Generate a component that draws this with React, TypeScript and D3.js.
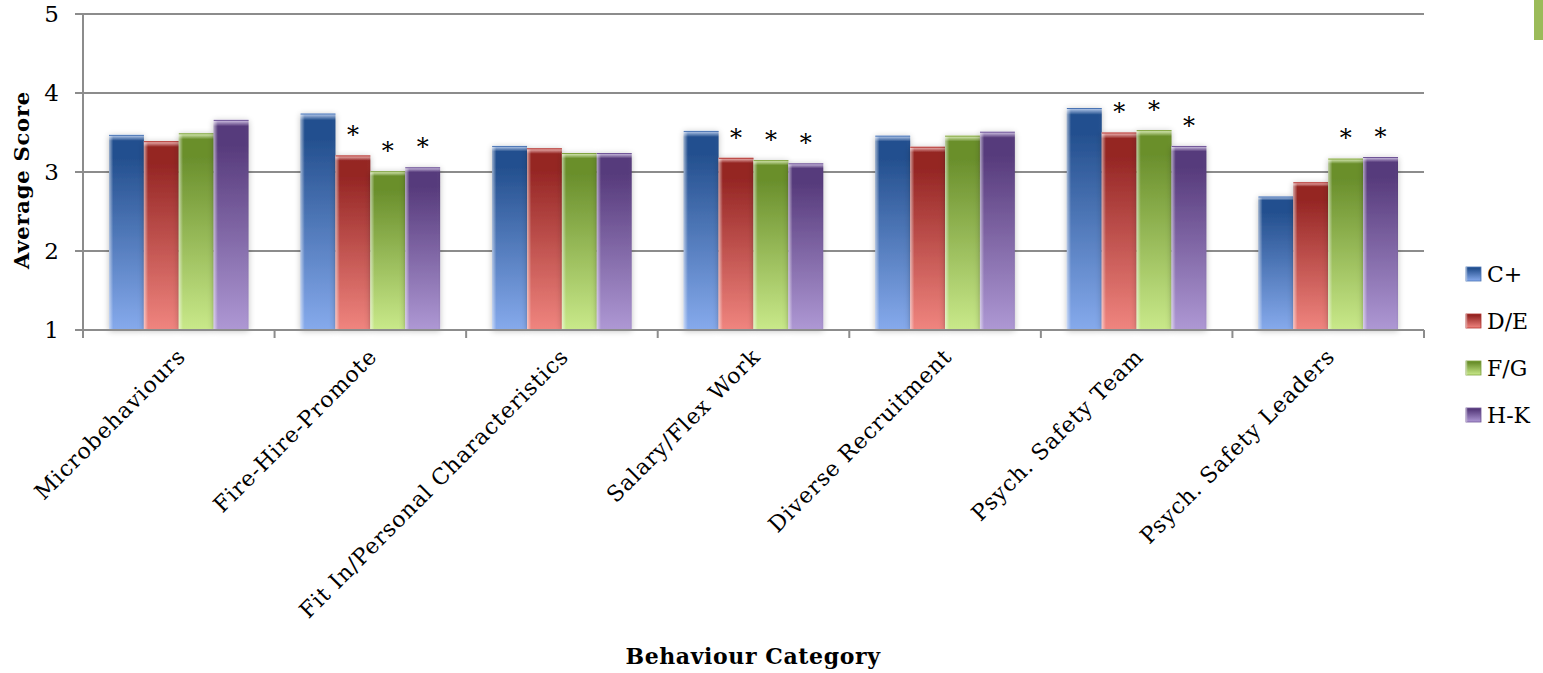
import React from "react";
import * as d3 from "d3";

const categories = [
  "Microbehaviours",
  "Fire-Hire-Promote",
  "Fit In/Personal Characteristics",
  "Salary/Flex Work",
  "Diverse Recruitment",
  "Psych. Safety Team",
  "Psych. Safety Leaders",
];
const seriesNames = ["C+", "D/E", "F/G", "H-K"];
const cPlus = [3.47, 3.74, 3.33, 3.52, 3.46, 3.81, 2.69];
const dE = [3.39, 3.21, 3.3, 3.18, 3.32, 3.5, 2.87];
const fG = [3.49, 3.01, 3.24, 3.15, 3.46, 3.53, 3.17];
const hK = [3.66, 3.06, 3.24, 3.11, 3.51, 3.33, 3.19];
// significance markers (1 = asterisk)
const sigDE = [0, 1, 0, 1, 0, 1, 0];
const sigFG = [0, 1, 0, 1, 0, 1, 1];
const sigHK = [0, 1, 0, 1, 0, 1, 1];
const yTicks = [1, 2, 3, 4, 5];

const seriesValues = [cPlus, dE, fG, hK];
const seriesSig = [[0, 0, 0, 0, 0, 0, 0], sigDE, sigFG, sigHK];
const palette = [
  { top: "#24508f", bottom: "#86aaec", edge: "#c4d6f4", line: "#4a74b4" },
  { top: "#952624", bottom: "#f0857f", edge: "#f8c8c6", line: "#b0302c" },
  { top: "#6a8f2c", bottom: "#c9e98a", edge: "#e6f6c8", line: "#7ea23c" },
  { top: "#573b7c", bottom: "#ae98d4", edge: "#dcd0ee", line: "#6e5396" },
];

const FONT = "'DejaVu Serif', 'Liberation Serif', serif";

export default function App() {
  const W = 1543,
    H = 673;
  const left = 83,
    right = 1424,
    top = 14,
    bottom = 330;
  const x = d3.scaleBand<string>().domain(categories).range([left, right]);
  const inner = d3
    .scaleBand<string>()
    .domain(seriesNames)
    .range([26, x.bandwidth() - 26]);
  const y = d3.scaleLinear().domain([1, 5]).range([bottom, top]);
  const grid = "#8c8c8c";

  return (
    <svg
      width={W}
      height={H}
      style={{ position: "absolute", left: 0, top: 0, background: "#fff" }}
      fontFamily={FONT}
    >
      <defs>
        {palette.map((p, i) => (
          <linearGradient key={"v" + i} id={"gv" + i} x1="0" y1="0" x2="0" y2="1">
            <stop offset="0" stopColor={p.edge} />
            <stop offset="0.03" stopColor={p.top} />
            <stop offset="0.12" stopColor={p.top} />
            <stop offset="1" stopColor={p.bottom} />
          </linearGradient>
        ))}
        <linearGradient id="gh" x1="0" y1="0" x2="1" y2="0">
          <stop offset="0" stopColor="#fff" stopOpacity="0.55" />
          <stop offset="0.12" stopColor="#fff" stopOpacity="0" />
          <stop offset="0.9" stopColor="#fff" stopOpacity="0" />
          <stop offset="1" stopColor="#000" stopOpacity="0.05" />
        </linearGradient>
        <filter id="shadow" x="-20%" y="-10%" width="140%" height="120%">
          <feGaussianBlur in="SourceAlpha" stdDeviation="3" />
          <feOffset dx="0" dy="1" result="b" />
          <feComponentTransfer>
            <feFuncA type="linear" slope="0.25" />
          </feComponentTransfer>
          <feMerge>
            <feMergeNode />
            <feMergeNode in="SourceGraphic" />
          </feMerge>
        </filter>
      </defs>

      {/* green corner accent */}
      <rect x={1534} y={0} width={9} height={40} fill="#9bbb59" />

      {/* gridlines */}
      {yTicks.map((t) => (
        <line
          key={"g" + t}
          x1={left - 8}
          x2={right}
          y1={y(t)}
          y2={y(t)}
          stroke={grid}
          strokeWidth={2}
        />
      ))}
      {/* y axis */}
      <line x1={left} x2={left} y1={top} y2={bottom + 8} stroke={grid} strokeWidth={2} />
      {/* category ticks */}
      {[...categories.map((c) => x(c)!), right].map((v, i) => (
        <line key={"ct" + i} x1={v} x2={v} y1={bottom} y2={bottom + 8} stroke={grid} strokeWidth={2} />
      ))}

      {/* y tick labels */}
      {yTicks.map((t) => (
        <text
          key={"yl" + t}
          x={left - 24}
          y={y(t)}
          dy="0.36em"
          textAnchor="end"
          fontSize={23}
          fill="#000"
        >
          {t}
        </text>
      ))}

      {/* bars */}
      {categories.map((c, ci) => (
        <g key={c} transform={`translate(${x(c)},0)`}>
          {seriesNames.map((s, si) => {
            const v = seriesValues[si][ci];
            const bx = inner(s)!;
            const bw = inner.bandwidth();
            const by = y(v);
            const bh = bottom - by;
            return (
              <g key={s}>
                <rect x={bx} y={by} width={bw} height={bh} fill={`url(#gv${si})`} filter="url(#shadow)" />
                <rect x={bx} y={by} width={bw} height={bh} fill="url(#gh)" />
                <line x1={bx} x2={bx + bw} y1={by + 0.5} y2={by + 0.5} stroke={palette[si].line} strokeWidth={1} />
                {seriesSig[si][ci] ? (
                  <text
                    x={bx + bw / 2}
                    y={by - 29}
                    dy="0.7em"
                    textAnchor="middle"
                    fontSize={24}
                    fill="#000"
                  >
                    *
                  </text>
                ) : null}
              </g>
            );
          })}
        </g>
      ))}
      <line x1={left} x2={right} y1={bottom} y2={bottom} stroke={grid} strokeWidth={2} />

      {/* x tick labels */}
      {categories.map((c) => {
        const cx = x(c)! + x.bandwidth() / 2 + 8;
        return (
          <text
            key={"xl" + c}
            transform={`translate(${cx},${bottom + 28}) rotate(-45)`}
            textAnchor="end"
            fontSize={22}
            letterSpacing={0.9}
            fill="#000"
          >
            {c}
          </text>
        );
      })}

      {/* axis titles */}
      <text
        transform={`translate(29,${(top + bottom) / 2 + 8}) rotate(-90)`}
        textAnchor="middle"
        fontSize={21}
        letterSpacing={0.8}
        fontWeight="bold"
        fill="#000"
      >
        Average Score
      </text>
      <text x={753} y={664} textAnchor="middle" fontSize={22} letterSpacing={0.6} fontWeight="bold" fill="#000">
        Behaviour Category
      </text>

      {/* legend */}
      {seriesNames.map((s, i) => (
        <g key={"lg" + s} transform={`translate(1466,${267 + i * 47})`}>
          <rect x={0} y={0} width={15} height={14} fill={`url(#gv${i})`} stroke={palette[i].line} strokeWidth={0.8} />
          <rect x={0} y={0} width={15} height={14} fill="url(#gh)" />
          <text x={21} y={7} dy="0.36em" fontSize={22} fill="#000">
            {s}
          </text>
        </g>
      ))}
    </svg>
  );
}
